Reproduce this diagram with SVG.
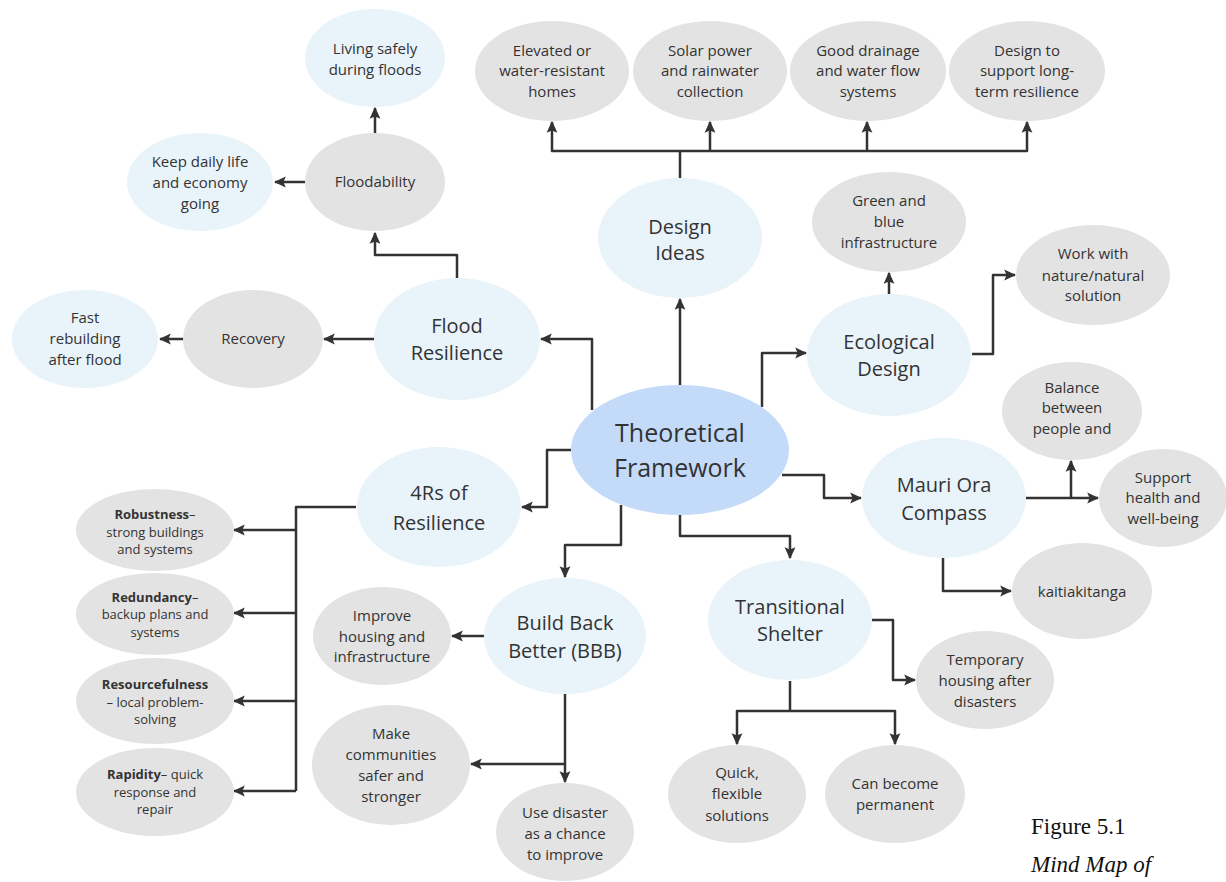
<svg xmlns="http://www.w3.org/2000/svg" width="1226" height="882" viewBox="0 0 1226 882">
<style>
text{font-family:"Open Sans","Noto Sans","Liberation Sans",sans-serif;fill:#333;text-anchor:middle}
.s{font-size:15px}
.xs{font-size:13px}
.m{font-size:20px}
.l{font-size:25px}
.b{font-weight:bold}
.blue{fill:#e9f3fa}
.gray{fill:#e3e3e3}
.main{fill:#c3dbf8}
.c{fill:none;stroke:#333;stroke-width:2.5;stroke-linejoin:round}
.a{marker-end:url(#ah)}
.cap{font-family:"Liberation Serif","Times New Roman",serif;font-size:23px;text-anchor:start;fill:#111}
</style>
<defs>
<marker id="ah" markerUnits="userSpaceOnUse" markerWidth="12" markerHeight="12" viewBox="0 0 10 10" refX="9" refY="5" orient="auto">
<path d="M0,0.5 L10,5 L0,9.5 L2,5 z" fill="#333"/>
</marker>
</defs>
<rect width="1226" height="882" fill="#fff"/>

<g id="connectors">
<!-- Flood resilience branch -->
<path class="c a" d="M592,410 V339 H541"/>
<path class="c a" d="M374,339 H324"/>
<path class="c a" d="M184,339 H160"/>
<path class="c a" d="M457,278 V255 H375 V233"/>
<path class="c a" d="M375,133 V108"/>
<path class="c a" d="M305,182 H275"/>
<!-- Design ideas -->
<path class="c a" d="M680,385 V299"/>
<path class="c" d="M680,178 V151"/>
<path class="c a" d="M680,151 H552 V122"/>
<path class="c a" d="M680,151 H1027 V122"/>
<path class="c a" d="M710,151 V122"/>
<path class="c a" d="M867,151 V122"/>
<!-- Ecological -->
<path class="c a" d="M762,407 V353 H806"/>
<path class="c a" d="M889,294 V273"/>
<path class="c a" d="M972,354 H993 V275 H1015"/>
<!-- Mauri Ora -->
<path class="c a" d="M782,475 H824 V498 H861"/>
<path class="c a" d="M1026,498 H1098"/>
<path class="c a" d="M1071,498 V461"/>
<path class="c a" d="M943,558 V591 H1011"/>
<!-- Transitional -->
<path class="c a" d="M680,515 V536 H790 V558"/>
<path class="c a" d="M872,620 H893 V680 H915"/>
<path class="c" d="M790,681 V711"/>
<path class="c a" d="M790,711 H737 V744"/>
<path class="c a" d="M790,711 H895 V744"/>
<!-- BBB -->
<path class="c a" d="M621,505 V545 H565 V577"/>
<path class="c a" d="M484,636 H452"/>
<path class="c a" d="M565,694 V782"/>
<path class="c a" d="M565,764 H471"/>
<!-- 4Rs -->
<path class="c a" d="M571,450 H547 V507 H522"/>
<path class="c" d="M356,507 H296 V791"/>
<path class="c a" d="M296,530 H234"/>
<path class="c a" d="M296,613 H234"/>
<path class="c a" d="M296,701 H234"/>
<path class="c a" d="M296,791 H234"/>
</g>

<g id="n-theoretical"><ellipse class="main" cx="680" cy="450" rx="109" ry="65"/><text class="l" x="680" y="442">Theoretical</text><text class="l" x="680" y="477">Framework</text></g>

<g id="n-flood"><ellipse class="blue" cx="457" cy="339" rx="83" ry="61"/><text class="m" x="457" y="333">Flood</text><text class="m" x="457" y="360">Resilience</text></g>
<g id="n-recovery"><ellipse class="gray" cx="253" cy="339" rx="70" ry="49"/><text class="s" x="253" y="344">Recovery</text></g>
<g id="n-fast"><ellipse class="blue" cx="85" cy="339" rx="73" ry="49"/><text class="s" x="85" y="323">Fast</text><text class="s" x="85" y="344">rebuilding</text><text class="s" x="85" y="365">after flood</text></g>
<g id="n-floodability"><ellipse class="gray" cx="375" cy="182" rx="70" ry="49"/><text class="s" x="375" y="187">Floodability</text></g>
<g id="n-living"><ellipse class="blue" cx="375" cy="58" rx="70" ry="49"/><text class="s" x="375" y="54">Living safely</text><text class="s" x="375" y="75">during floods</text></g>
<g id="n-keep"><ellipse class="blue" cx="200" cy="182" rx="73" ry="49"/><text class="s" x="200" y="167">Keep daily life</text><text class="s" x="200" y="188">and economy</text><text class="s" x="200" y="209">going</text></g>

<g id="n-design"><ellipse class="blue" cx="680" cy="238" rx="82" ry="60"/><text class="m" x="680" y="234">Design</text><text class="m" x="680" y="260">Ideas</text></g>
<g id="n-elevated"><ellipse class="gray" cx="552" cy="71" rx="77" ry="50"/><text class="s" x="552" y="56">Elevated or</text><text class="s" x="552" y="76">water-resistant</text><text class="s" x="552" y="97">homes</text></g>
<g id="n-solar"><ellipse class="gray" cx="710" cy="71" rx="77" ry="50"/><text class="s" x="710" y="56">Solar power</text><text class="s" x="710" y="76">and rainwater</text><text class="s" x="710" y="97">collection</text></g>
<g id="n-drainage"><ellipse class="gray" cx="868" cy="71" rx="78" ry="50"/><text class="s" x="868" y="56">Good drainage</text><text class="s" x="868" y="76">and water flow</text><text class="s" x="868" y="97">systems</text></g>
<g id="n-longterm"><ellipse class="gray" cx="1027" cy="71" rx="78" ry="50"/><text class="s" x="1027" y="56">Design to</text><text class="s" x="1027" y="76">support long-</text><text class="s" x="1027" y="97">term resilience</text></g>

<g id="n-eco"><ellipse class="blue" cx="889" cy="355" rx="82" ry="61"/><text class="m" x="889" y="349">Ecological</text><text class="m" x="889" y="376">Design</text></g>
<g id="n-green"><ellipse class="gray" cx="889" cy="222" rx="77" ry="50"/><text class="s" x="889" y="206">Green and</text><text class="s" x="889" y="227">blue</text><text class="s" x="889" y="248">infrastructure</text></g>
<g id="n-nature"><ellipse class="gray" cx="1093" cy="275" rx="77" ry="50"/><text class="s" x="1093" y="259">Work with</text><text class="s" x="1093" y="281">nature/natural</text><text class="s" x="1093" y="301">solution</text></g>

<g id="n-mauri"><ellipse class="blue" cx="944" cy="498" rx="82" ry="60"/><text class="m" x="944" y="492">Mauri Ora</text><text class="m" x="944" y="520">Compass</text></g>
<g id="n-balance"><ellipse class="gray" cx="1072" cy="411" rx="70" ry="49"/><text class="s" x="1072" y="393">Balance</text><text class="s" x="1072" y="413">between</text><text class="s" x="1072" y="434">people and</text></g>
<g id="n-support"><ellipse class="gray" cx="1163" cy="498" rx="64" ry="49"/><text class="s" x="1163" y="483">Support</text><text class="s" x="1163" y="503">health and</text><text class="s" x="1163" y="524">well-being</text></g>
<g id="n-kaitiaki"><ellipse class="gray" cx="1082" cy="591" rx="70" ry="48"/><text class="s" x="1082" y="597">kaitiakitanga</text></g>

<g id="n-transitional"><ellipse class="blue" cx="790" cy="620" rx="82" ry="60"/><text class="m" x="790" y="614">Transitional</text><text class="m" x="790" y="641">Shelter</text></g>
<g id="n-temporary"><ellipse class="gray" cx="985" cy="680" rx="69" ry="49"/><text class="s" x="985" y="665">Temporary</text><text class="s" x="985" y="686">housing after</text><text class="s" x="985" y="707">disasters</text></g>
<g id="n-quick"><ellipse class="gray" cx="737" cy="794" rx="69" ry="49"/><text class="s" x="737" y="778">Quick,</text><text class="s" x="737" y="799">flexible</text><text class="s" x="737" y="821">solutions</text></g>
<g id="n-permanent"><ellipse class="gray" cx="895" cy="794" rx="70" ry="49"/><text class="s" x="895" y="789">Can become</text><text class="s" x="895" y="810">permanent</text></g>

<g id="n-bbb"><ellipse class="blue" cx="565" cy="636" rx="81" ry="58"/><text class="m" x="565" y="630">Build Back</text><text class="m" x="565" y="658">Better (BBB)</text></g>
<g id="n-improve"><ellipse class="gray" cx="382" cy="636" rx="69" ry="49"/><text class="s" x="382" y="621">Improve</text><text class="s" x="382" y="642">housing and</text><text class="s" x="382" y="662">infrastructure</text></g>
<g id="n-communities"><ellipse class="gray" cx="391" cy="765" rx="79" ry="60"/><text class="s" x="391" y="739">Make</text><text class="s" x="391" y="760">communities</text><text class="s" x="391" y="781">safer and</text><text class="s" x="391" y="802">stronger</text></g>
<g id="n-usedisaster"><ellipse class="gray" cx="565" cy="832" rx="69" ry="49"/><text class="s" x="565" y="818">Use disaster</text><text class="s" x="565" y="839">as a chance</text><text class="s" x="565" y="860">to improve</text></g>

<g id="n-4rs"><ellipse class="blue" cx="439" cy="507" rx="82" ry="60"/><text class="m" x="439" y="500">4Rs of</text><text class="m" x="439" y="530">Resilience</text></g>
<g id="n-robust"><ellipse class="gray" cx="155" cy="530" rx="79" ry="41"/><text class="xs" x="155" y="519"><tspan class="b">Robustness</tspan>–</text><text class="xs" x="155" y="537">strong buildings</text><text class="xs" x="155" y="554">and systems</text></g>
<g id="n-redund"><ellipse class="gray" cx="155" cy="614" rx="79" ry="41"/><text class="xs" x="155" y="602"><tspan class="b">Redundancy</tspan>–</text><text class="xs" x="155" y="619">backup plans and</text><text class="xs" x="155" y="637">systems</text></g>
<g id="n-resource"><ellipse class="gray" cx="155" cy="701" rx="79" ry="43"/><text class="xs b" x="155" y="689">Resourcefulness</text><text class="xs" x="155" y="707">– local problem-</text><text class="xs" x="155" y="724">solving</text></g>
<g id="n-rapid"><ellipse class="gray" cx="155" cy="792" rx="79" ry="44"/><text class="xs" x="155" y="779"><tspan class="b">Rapidity</tspan>– quick</text><text class="xs" x="155" y="797">response and</text><text class="xs" x="155" y="814">repair</text></g>

<g id="caption"><text class="cap" x="1031" y="834">Figure 5.1</text><text class="cap" x="1031" y="872" font-style="italic">Mind Map of</text></g>
</svg>
